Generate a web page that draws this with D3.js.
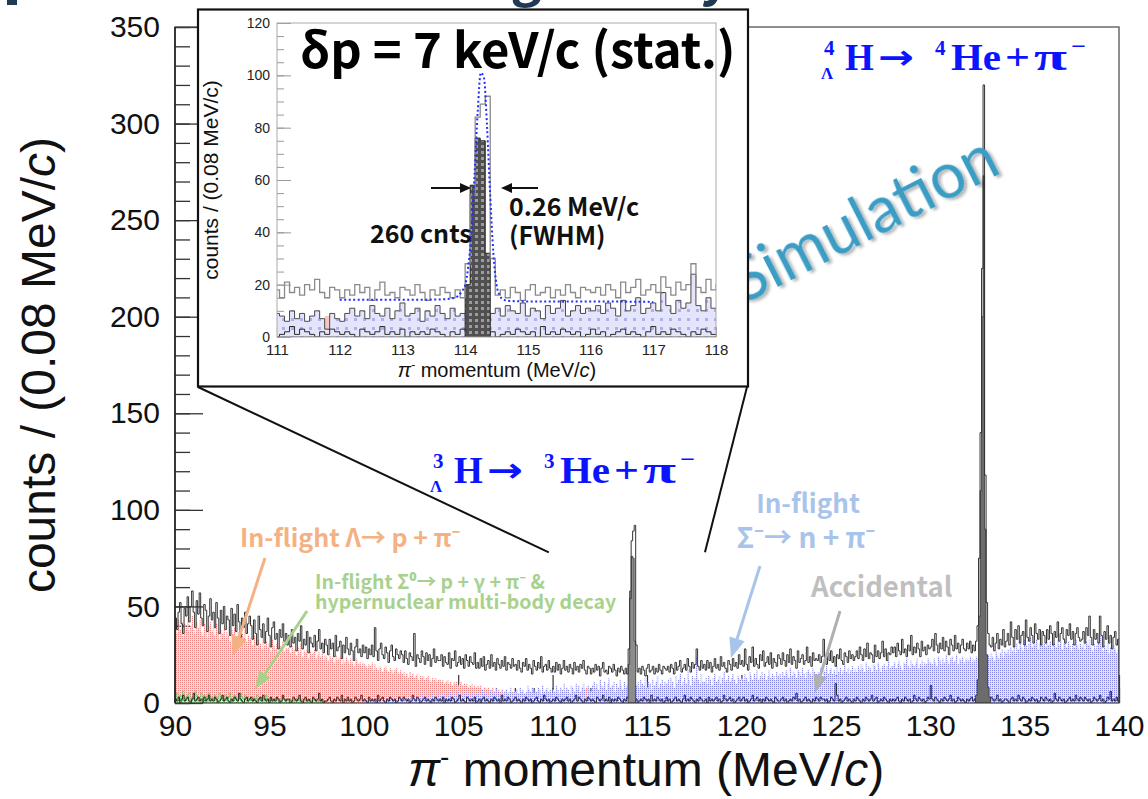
<!DOCTYPE html>
<html>
<head>
<meta charset="utf-8">
<script src="https://cdn.jsdelivr.net/npm/d3@7"></script>
<style>
  body { margin: 0; background: #fff; }
  svg { display: block; }
</style>
</head>
<body>
<div id="chart"></div>
<script>
// --- Data (bins of 0.08 MeV/c starting at 90 MeV/c, 25 bins per row = 2 MeV/c) ---
const binWidth = 0.08;
const firstEdge = 90;

const xTicks = [90, 95, 100, 105, 110, 115, 120, 125, 130, 135, 140];
const yTicks = [0, 50, 100, 150, 200, 250, 300, 350];
const insetXTicks = [111, 112, 113, 114, 115, 116, 117, 118];
const insetYTicks = [0, 20, 40, 60, 80, 100, 120];

// total simulated spectrum (black outline)
const totalStart = 0;
const total = [
  44,38,47,52,41,36,49,45,55,42,50,58,47,39,53,46,57,44,40,51,48,37,45,54,43,
  47,39,52,44,36,48,41,50,38,45,43,35,49,40,46,37,51,42,34,44,39,47,36,41,45,
  40,33,43,36,30,45,38,34,41,31,37,44,35,29,39,42,33,36,28,38,34,41,32,36,30,
  35,29,38,31,34,27,36,32,40,28,33,30,37,26,34,31,29,35,27,32,38,28,31,26,33,
  30,25,33,28,31,24,35,27,29,32,23,30,26,34,28,25,31,27,22,29,33,26,28,24,30,
  26,29,23,28,25,30,24,39,27,22,28,31,25,23,29,26,21,27,30,24,22,28,25,23,27,
  25,21,27,23,20,26,24,22,36,19,25,23,21,27,24,20,26,22,25,19,23,28,21,24,22,
  22,25,19,24,21,20,26,18,23,22,27,19,21,24,20,23,18,25,22,19,24,21,20,26,18,
  21,18,23,19,24,17,20,22,18,25,19,21,17,23,20,18,22,19,24,17,21,20,18,23,19,
  20,17,22,18,16,21,19,23,17,20,18,15,22,19,17,21,18,24,16,19,20,17,22,18,16,
  19,16,21,17,20,15,18,22,17,19,16,20,18,15,21,17,19,16,20,18,22,17,15,19,18,
  15,18,16,20,17,19,14,18,21,16,17,15,19,18,16,20,17,14,18,16,19,17,15,18,15,
  28,54,84,89,92,30,16,18,15,19,17,14,18,20,16,17,19,15,18,16,20,17,15,19,18,
  17,19,16,20,18,15,21,17,19,22,16,18,20,17,23,19,16,21,18,20,28,19,17,22,18,
  20,17,22,18,21,16,19,23,18,20,17,24,19,21,18,16,22,20,17,23,19,21,18,25,20,
  22,19,28,20,17,24,21,29,19,23,20,18,25,22,27,19,21,24,20,26,18,23,21,19,25,
  23,20,26,22,19,25,21,28,20,24,22,18,27,21,23,25,20,22,29,21,24,19,26,22,23,
  22,25,21,24,33,23,20,26,22,27,21,24,19,25,23,28,22,20,26,24,21,27,23,25,22,
  24,27,23,29,25,22,28,24,31,23,26,25,21,30,24,27,23,26,32,24,28,22,26,25,29,
  26,29,24,31,27,25,33,26,28,24,30,27,35,25,29,26,31,28,24,32,27,29,25,30,28,
  29,33,27,36,30,26,31,28,34,27,32,29,25,33,30,27,35,28,31,26,30,33,28,27,31,
  28,32,26,30,27,32,40,75,140,225,320,118,52,36,30,29,34,27,31,36,28,33,30,38,29,
  32,36,30,42,34,29,38,33,40,31,35,37,30,43,34,32,39,35,31,41,36,33,38,30,37,
  35,31,38,33,40,36,30,37,34,42,32,36,39,33,31,38,35,41,33,37,30,36,39,34,32,
  33,37,31,39,35,45,34,30,38,33,36,31,45,35,29,37,33,40,31,35,28,34,37,30,33
];

// in-flight Lambda -> p + pi- (red)
const lambdaStart = 0;
const lambdaIF = [
  40,36,43,38,42,35,41,39,44,37,40,45,38,36,42,39,43,37,35,41,38,34,40,42,37,
  39,35,41,37,33,38,36,40,34,37,35,32,38,36,39,33,37,35,31,36,34,38,32,35,33,
  34,30,35,32,29,33,31,28,34,30,32,29,31,27,33,30,28,31,26,30,29,32,27,29,28,
  29,26,30,27,28,25,29,26,31,24,27,26,28,23,27,25,26,28,23,25,27,24,26,22,25,
  24,22,25,23,24,21,25,22,23,24,20,23,21,24,22,20,23,21,19,22,23,20,21,19,21,
  20,19,18,20,19,21,17,20,18,17,19,18,16,18,19,17,16,18,17,15,17,18,16,15,17,
  15,16,14,15,13,16,14,15,13,14,15,12,14,13,14,12,13,14,12,11,13,12,13,11,12,
  12,11,12,10,11,12,10,11,9,11,10,11,9,10,11,9,10,9,10,8,9,10,8,9,8,
  9,8,9,7,8,8,7,8,6,7,8,6,7,6,7,6,7,5,6,7,5,6,5,6,5,
  5,6,4,5,5,4,5,4,3,4,5,3,4,3,4,3,3,4,2,3,3,2,3,2,2,
  2,2,1,2,2,1,2,1,1,2,1,1,1,2,1,0,1,1,0,1,1,0,8,1,0
];

// in-flight Sigma- -> n + pi- (blue), from 100 MeV/c
const sigmaStart = 125;
const sigmaIF = [
  1,2,1,0,2,1,3,1,2,1,2,3,1,2,2,1,3,2,1,3,2,2,3,1,2,
  3,2,4,2,3,3,2,4,3,2,4,3,3,5,2,4,3,4,2,3,5,3,4,3,4,
  4,3,5,4,3,5,4,6,3,4,5,4,6,3,5,4,5,6,4,5,3,6,5,4,5,
  5,6,4,7,5,6,5,4,7,6,5,6,8,5,6,4,7,5,6,7,5,6,8,5,6,
  6,7,5,8,6,7,5,6,9,7,6,8,5,7,6,8,7,5,9,6,7,8,6,7,5,
  7,6,9,7,5,8,7,10,6,8,7,5,9,8,6,10,7,9,6,8,10,7,3,9,7,
  6,9,11,8,10,7,12,9,8,11,7,10,13,8,9,11,6,10,8,12,9,7,11,8,9,
  8,7,6,5,6,9,11,8,12,10,9,13,8,11,10,7,12,9,11,14,8,10,12,9,11,
  10,12,9,13,11,8,14,10,12,15,9,11,13,10,17,12,9,14,11,13,24,12,10,15,11,
  11,13,10,14,12,9,13,15,11,12,14,10,13,16,11,12,14,11,13,15,12,10,14,13,12,
  13,12,15,13,11,16,14,12,15,13,17,12,14,16,13,15,12,14,17,13,15,14,12,16,14,
  15,13,16,14,17,15,13,18,14,16,15,13,17,16,14,18,15,13,16,17,15,14,18,16,15,
  16,15,18,14,17,16,19,15,17,18,15,17,14,19,16,18,15,17,20,16,18,15,17,19,16,
  18,16,19,17,20,18,16,21,17,19,18,16,20,19,17,21,18,16,19,20,17,19,22,18,19,
  19,21,18,20,22,19,17,21,20,23,19,18,22,20,19,21,23,18,20,22,19,21,20,23,21,
  21,20,23,21,19,24,22,20,23,21,25,22,20,23,24,21,22,25,20,23,22,24,21,23,22,
  22,24,21,23,22,24,23,25,22,21,23,24,22,25,23,26,24,22,27,25,23,26,28,24,27,
  26,28,25,29,27,30,26,31,28,32,29,27,33,30,28,31,34,29,32,30,33,28,31,34,30,
  31,29,33,30,32,28,34,31,29,33,30,32,28,31,34,29,32,30,27,31,29,33,30,28,31,
  29,31,28,32,30,33,29,27,31,28,30,32,35,29,27,30,28,31,26,29,27,30,28,26,28
];

// in-flight Sigma0 & multi-body decay (green), 90-98 MeV/c
const sigma0Start = 0;
const sigma0IF = [
  3,5,2,4,1,6,3,2,4,5,1,3,2,6,4,1,3,5,2,4,3,1,5,2,3,
  2,4,1,3,5,2,3,1,4,2,3,5,1,2,4,3,1,2,5,3,2,4,1,3,2,
  2,1,3,2,4,1,2,3,1,2,4,2,1,3,2,1,2,3,1,2,1,3,2,1,2,
  1,2,1,0,2,1,3,1,2,1,0,2,1,1,2,0,1,2,1,0,1,2,1,0,1
];

// accidental background
const accStart = 0;
const accidental = [
  2,1,3,0,2,4,1,2,3,1,0,2,5,1,2,3,1,2,0,3,1,2,4,1,2,
  1,3,2,0,1,2,4,1,2,3,1,0,2,1,3,2,1,5,2,1,0,2,3,1,2,
  3,1,2,1,0,2,3,1,4,2,1,2,0,3,1,2,1,3,2,0,1,4,2,1,2,
  2,0,1,3,2,1,2,4,1,0,2,3,1,2,1,0,3,2,1,2,5,1,2,0,1,
  1,2,3,1,0,2,1,3,2,1,4,0,2,1,3,1,2,0,1,3,2,1,2,4,1,
  2,1,0,3,1,2,1,2,0,4,1,2,3,1,0,2,1,3,2,1,2,0,1,3,2,
  1,3,2,1,2,0,1,4,2,1,3,2,0,1,2,3,1,2,1,0,2,1,3,2,1,
  2,1,3,0,2,1,2,1,3,2,0,1,2,4,1,2,1,0,3,2,1,2,1,3,0,
  1,2,0,2,3,1,2,1,0,2,1,3,2,1,2,0,4,1,2,1,3,2,0,1,2,
  3,1,2,1,0,2,1,3,2,1,2,0,1,2,3,1,0,2,1,4,2,1,2,0,1,
  2,1,3,2,1,0,2,1,2,3,1,2,0,1,2,4,1,3,2,1,0,2,1,3,2,
  1,2,1,0,3,2,1,2,4,1,2,1,3,0,2,1,2,1,3,2,1,0,2,1,3,
  2,1,2,3,1,2,0,1,2,1,3,2,1,2,0,4,1,2,1,3,2,1,2,0,1,
  3,1,2,0,1,2,3,1,2,1,0,2,4,1,2,1,3,2,1,0,2,1,3,2,1,
  1,2,0,3,1,2,1,2,3,1,2,0,1,4,2,1,2,3,1,2,0,1,2,3,1,
  2,3,1,2,0,1,2,4,1,2,3,1,2,0,2,1,3,2,1,2,1,0,3,2,1,
  1,2,3,1,2,0,1,2,1,3,2,5,1,2,0,1,2,3,1,2,1,0,2,1,3,
  2,1,3,2,2,1,2,0,1,3,2,1,10,4,1,2,0,1,2,3,1,2,1,0,2,
  1,3,2,1,0,2,1,3,2,1,2,4,1,2,3,0,1,2,1,3,2,1,0,2,1,
  2,1,2,3,1,0,2,1,3,2,1,2,0,1,4,2,1,3,2,1,2,0,1,3,2,
  9,2,1,3,2,1,0,2,1,3,2,1,2,4,1,2,0,1,3,2,1,2,1,0,2,
  1,2,3,1,2,0,1,2,1,3,2,1,0,2,1,3,2,1,2,4,1,2,0,1,2,
  2,1,0,2,3,1,2,1,4,2,1,3,2,0,1,2,1,3,2,1,2,0,1,3,2,
  1,3,2,1,2,0,1,5,2,1,3,2,1,2,0,1,2,3,1,2,1,4,2,1,3,
  2,1,3,2,1,2,0,1,3,2,1,2,4,1,2,0,1,3,2,6,1,2,1,3,1
];

// hypernuclear two-body decay peaks
const peak3Start = 300; // 3LH -> 3He + pi-
const peak3 = [20, 58, 76, 75, 32];
const peak4Start = 530; // 4LH -> 4He + pi-
const peak4 = [4, 12, 45, 110, 200, 273, 90, 25, 8, 3];

// fitted curve in the inset
const fitX = [112.0, 113.0, 113.5, 113.7, 113.8, 113.9, 113.95, 114.0, 114.05, 114.1, 114.15, 114.2,
              114.25, 114.3, 114.35, 114.4, 114.45, 114.5, 114.55, 114.6, 114.7, 115.0, 116.0, 117.0];
const fitY = [14.2, 14.2, 14.3, 14.5, 14.8, 16.0, 17.6, 19.8, 27, 40, 62, 86,
              101, 99, 80, 54, 32, 20, 16, 14.4, 13.8, 13.6, 13.6, 13.4];

// --- Setup ---
const w = 1148, h = 799;
const svg = d3.select("#chart").append("svg")
    .attr("width", w)
    .attr("height", h);

const defs = svg.append("defs");

function dotPattern(id, bg, dot) {
    const p = defs.append("pattern").attr("id", id)
        .attr("patternUnits", "userSpaceOnUse").attr("width", 2).attr("height", 2);
    p.append("rect").attr("width", 2).attr("height", 2).attr("fill", bg);
    p.append("rect").attr("width", 1).attr("height", 1).attr("fill", dot);
}
dotPattern("redDots", "#fcdede", "#ef8080");
dotPattern("blueDots", "#e2e2f9", "#8686ea");
dotPattern("greenDots", "#d8f5d8", "#6cc86c");

// softer, larger pattern for the inset
const ib = defs.append("pattern").attr("id", "insetBlue")
    .attr("patternUnits", "userSpaceOnUse").attr("width", 9).attr("height", 9);
ib.append("rect").attr("width", 9).attr("height", 9).attr("fill", "#e4e5fb");
ib.append("rect").attr("x", 3).attr("y", 3).attr("width", 3).attr("height", 3).attr("fill", "#aeb0f2");
const ig = defs.append("pattern").attr("id", "insetGray")
    .attr("patternUnits", "userSpaceOnUse").attr("width", 6).attr("height", 6);
ig.append("rect").attr("width", 6).attr("height", 6).attr("fill", "#505050");
ig.append("rect").attr("x", 1).attr("y", 1).attr("width", 3).attr("height", 3).attr("fill", "#9c9c9c");

const shadow = defs.append("filter").attr("id", "shadow")
    .attr("x", "-10%").attr("y", "-10%").attr("width", "130%").attr("height", "130%");
shadow.append("feDropShadow").attr("dx", 2).attr("dy", 3).attr("stdDeviation", 1.5)
    .attr("flood-color", "#000").attr("flood-opacity", 0.3);

defs.append("clipPath").attr("id", "mainClip")
    .append("rect").attr("x", 175).attr("y", 27).attr("width", 944).attr("height", 676);
defs.append("clipPath").attr("id", "insetClip")
    .append("rect").attr("x", 277).attr("y", 23).attr("width", 439).attr("height", 314);

// slide remnants at the top edge
svg.append("rect").attr("x", 7).attr("y", 0).attr("width", 10).attr("height", 5).attr("fill", "#1f3a52");
svg.append("text")
    .attr("x", 782).attr("y", -5)
    .attr("text-anchor", "end")
    .attr("font-family", "'Noto Sans CJK JP', sans-serif")
    .attr("font-weight", "bold").attr("font-size", 52)
    .attr("fill", "#1f3a52")
    .text("Kaon beam running（1 day）");

// --- Scales ---
const x = d3.scaleLinear().domain([90, 140]).range([175, 1119]);
const y = d3.scaleLinear().domain([0, 350]).range([703, 27]);

function histPoints(values, start) {
    const pts = values.map((v, i) => [firstEdge + (start + i) * binWidth, v]);
    pts.push([firstEdge + (start + values.length) * binWidth, values[values.length - 1]]);
    return pts;
}
function outlinePoints(values, start) {
    const pts = histPoints(values, start);
    return [[pts[0][0], 0]].concat(pts, [[pts[pts.length - 1][0], 0]]);
}
function areaGen(xs, ys) {
    return d3.area().x(d => xs(d[0])).y0(ys(0)).y1(d => ys(d[1])).curve(d3.curveStepAfter);
}
function lineGen(xs, ys) {
    return d3.line().x(d => xs(d[0])).y(d => ys(d[1])).curve(d3.curveStepAfter);
}

// --- Main axes (ticks under the histograms) ---
function styleAxis(g, color, width) {
    g.select(".domain").remove();
    g.selectAll("line").attr("stroke", color).attr("stroke-width", width);
}

svg.append("g").attr("transform", "translate(0,703)")
    .call(d3.axisBottom(x).tickValues(d3.range(90, 140.5, 1)).tickSize(-15).tickFormat(""))
    .call(g => styleAxis(g, "#333", 1.2));
svg.append("g").attr("transform", "translate(0,703)")
    .call(d3.axisBottom(x).tickValues(xTicks).tickSize(-28).tickPadding(12).tickFormat(d3.format("d")))
    .call(g => styleAxis(g, "#333", 1.2))
    .call(g => g.selectAll("text")
        .attr("font-family", "'Liberation Sans', Arial, sans-serif")
        .attr("font-size", 30).attr("fill", "#111"));

svg.append("g").attr("transform", "translate(175,0)")
    .call(d3.axisLeft(y).tickValues(d3.range(0, 351, 10)).tickSize(-15).tickFormat(""))
    .call(g => styleAxis(g, "#333", 1.3));
svg.append("g").attr("transform", "translate(175,0)")
    .call(d3.axisLeft(y).tickValues(yTicks).tickSize(-28).tickPadding(15).tickFormat(d3.format("d")))
    .call(g => styleAxis(g, "#333", 1.3))
    .call(g => g.selectAll("text")
        .attr("font-family", "'Liberation Sans', Arial, sans-serif")
        .attr("font-size", 30).attr("fill", "#111"));

// --- Main histograms ---
const main = svg.append("g").attr("clip-path", "url(#mainClip)");
const mArea = areaGen(x, y), mLine = lineGen(x, y);

main.append("path").datum(histPoints(lambdaIF, lambdaStart))
    .attr("d", mArea).attr("fill", "url(#redDots)");
main.append("path").datum(histPoints(sigmaIF, sigmaStart))
    .attr("d", mArea).attr("fill", "url(#blueDots)");
main.append("path").datum(histPoints(sigma0IF, sigma0Start))
    .attr("d", mArea).attr("fill", "url(#greenDots)")
    .attr("stroke", "#5cae5c").attr("stroke-width", 0.6);
main.append("path").datum(outlinePoints(accidental, accStart))
    .attr("d", mLine).attr("fill", "none").attr("stroke", "#1a1a1a").attr("stroke-width", 0.9);
main.append("path").datum(histPoints(peak3, peak3Start))
    .attr("d", mArea).attr("fill", "#8c8c8c").attr("stroke", "#333").attr("stroke-width", 0.8);
main.append("path").datum(histPoints(peak4, peak4Start))
    .attr("d", mArea).attr("fill", "#6c6c6c").attr("stroke", "#333").attr("stroke-width", 0.8);
main.append("path").datum(outlinePoints(total, totalStart))
    .attr("d", mLine).attr("fill", "none").attr("stroke", "#333").attr("stroke-width", 1);

// frame
svg.append("rect").attr("x", 175).attr("y", 27).attr("width", 944).attr("height", 676)
    .attr("fill", "none").attr("stroke", "#444").attr("stroke-width", 1.2);
svg.append("line").attr("x1", 175).attr("x2", 175).attr("y1", 27).attr("y2", 703)
    .attr("stroke", "#222").attr("stroke-width", 1.6);

// axis titles
const xTitle = svg.append("text")
    .attr("x", 646).attr("y", 786).attr("text-anchor", "middle")
    .attr("font-family", "'Liberation Sans', Arial, sans-serif").attr("font-size", 48).attr("fill", "#111");
xTitle.append("tspan").attr("font-style", "italic").text("π");
xTitle.append("tspan").attr("dy", -20).attr("font-size", 28).text("-");
xTitle.append("tspan").attr("dy", 20).text(" momentum (MeV/");
xTitle.append("tspan").attr("font-style", "italic").text("c");
xTitle.append("tspan").text(")");

const yTitle = svg.append("text")
    .attr("transform", "translate(55,365) rotate(-90)").attr("text-anchor", "middle")
    .attr("font-family", "'Liberation Sans', Arial, sans-serif").attr("font-size", 48).attr("fill", "#111");
yTitle.append("tspan").text("counts / (0.08 MeV/");
yTitle.append("tspan").attr("font-style", "italic").text("c");
yTitle.append("tspan").text(")");

// --- Annotations ---
const cjk = "'Noto Sans CJK JP', 'Noto Sans', sans-serif";

function arrow(x1, y1, x2, y2, color, width, len, half) {
    const a = Math.atan2(y2 - y1, x2 - x1);
    const bx = x2 - len * Math.cos(a), by = y2 - len * Math.sin(a);
    svg.append("line").attr("x1", x1).attr("y1", y1).attr("x2", bx).attr("y2", by)
        .attr("stroke", color).attr("stroke-width", width);
    const px = -Math.sin(a) * half, py = Math.cos(a) * half;
    svg.append("polygon")
        .attr("points", `${x2},${y2} ${bx + px},${by + py} ${bx - px},${by - py}`)
        .attr("fill", color);
}

function note(tx, ty, str, color, size, anchor) {
    return svg.append("text").attr("x", tx).attr("y", ty)
        .attr("text-anchor", anchor || "start")
        .attr("font-family", cjk).attr("font-weight", "bold")
        .attr("font-size", size).attr("fill", color).text(str);
}

note(240, 547, "In-flight Λ→ p + π⁻", "#f4b183", 25);
arrow(265, 558, 233, 656, "#f4b183", 3, 20, 8);

note(315, 589, "In-flight Σ⁰→ p + γ + π⁻ &", "#a9d18e", 19.5);
note(315, 609, "hypernuclear multi-body decay", "#a9d18e", 19.5);
arrow(307, 611, 255, 689, "#a9d18e", 3, 18, 7);

note(808, 513, "In-flight", "#a9c4eb", 26, "middle");
note(806, 548, "Σ⁻→ n + π⁻", "#a9c4eb", 28, "middle");
arrow(760, 566, 731, 658, "#a9c4eb", 3, 20, 8);

note(811, 597, "Accidental", "#bfbfbf", 27.5);
arrow(840, 611, 815, 693, "#b0b0b0", 3, 18, 7);

// decay labels (blue)
const serif = "'Liberation Serif', 'DejaVu Serif', serif";
function decayLabel(x0, b, mass) {
    const g = svg.append("g").attr("fill", "#0a14ff").attr("font-weight", "bold");
    const piece = (px, py, str, size, len, family) => {
        const t = g.append("text").attr("x", px).attr("y", py)
            .attr("font-family", family || serif).attr("font-size", size).text(str);
        if (len) t.attr("textLength", len).attr("lengthAdjust", "spacingAndGlyphs");
    };
    piece(x0 + 3, b - 15, mass, 21);
    piece(x0, b + 9, "Λ", 17);
    piece(x0 + 24, b, "H", 37);
    piece(x0 + 57, b - 1, "→", 34, 36, "'DejaVu Sans', sans-serif");
    piece(x0 + 114, b - 15, mass, 21);
    piece(x0 + 130, b, "He", 37, 50);
    piece(x0 + 184, b, "+", 37, 25);
    piece(x0 + 213, b, "π", 37, 33);
    piece(x0 + 250, b - 17, "−", 21, 15);
}
decayLabel(430, 483, "3");
decayLabel(821, 70, "4");

svg.append("text")
    .attr("transform", "translate(866,224) rotate(-27)")
    .attr("text-anchor", "middle").attr("dominant-baseline", "middle")
    .attr("font-family", "Lato, 'Open Sans', sans-serif").attr("font-size", 63)
    .attr("fill", "#3a9cc4").attr("filter", "url(#shadow)")
    .text("Simulation");

// --- Zoom connectors ---
svg.append("line").attr("x1", 198).attr("y1", 387).attr("x2", x(109.8)).attr("y2", y(78))
    .attr("stroke", "#111").attr("stroke-width", 2);
svg.append("line").attr("x1", 747).attr("y1", 387).attr("x2", x(118.07)).attr("y2", y(78))
    .attr("stroke", "#111").attr("stroke-width", 2);

// --- Inset ---
svg.append("rect").attr("x", 198).attr("y", 9.5).attr("width", 550).attr("height", 377)
    .attr("fill", "#fff").attr("stroke", "#111").attr("stroke-width", 2.2);

const xi = d3.scaleLinear().domain([111, 118]).range([277, 716]);
const yi = d3.scaleLinear().domain([0, 120]).range([337, 23]);

svg.append("g").attr("transform", "translate(0,337)")
    .call(d3.axisBottom(xi).tickValues(d3.range(111, 118.01, 0.2)).tickSize(-5).tickFormat(""))
    .call(g => styleAxis(g, "#999", 1));
svg.append("g").attr("transform", "translate(0,337)")
    .call(d3.axisBottom(xi).tickValues(insetXTicks).tickSize(-10).tickPadding(7).tickFormat(d3.format("d")))
    .call(g => styleAxis(g, "#999", 1))
    .call(g => g.selectAll("text")
        .attr("font-family", "'Liberation Sans', Arial, sans-serif")
        .attr("font-size", 15).attr("fill", "#222"));
svg.append("g").attr("transform", "translate(277,0)")
    .call(d3.axisLeft(yi).tickValues(d3.range(0, 121, 5)).tickSize(-7).tickFormat(""))
    .call(g => styleAxis(g, "#999", 1));
svg.append("g").attr("transform", "translate(277,0)")
    .call(d3.axisLeft(yi).tickValues(insetYTicks).tickSize(-14).tickPadding(7).tickFormat(d3.format("d")))
    .call(g => styleAxis(g, "#999", 1))
    .call(g => g.selectAll("text")
        .attr("font-family", "'Liberation Sans', Arial, sans-serif")
        .attr("font-size", 14).attr("fill", "#222"));

const inset = svg.append("g").attr("clip-path", "url(#insetClip)");
const iArea = areaGen(xi, yi), iLine = lineGen(xi, yi);

inset.append("path").datum(histPoints(lambdaIF, lambdaStart))
    .attr("d", iArea).attr("fill", "#f6c4c4");
inset.append("path").datum(histPoints(sigmaIF, sigmaStart))
    .attr("d", iArea).attr("fill", "url(#insetBlue)")
    .attr("stroke", "#4a4a4a").attr("stroke-width", 1);
inset.append("path").datum(outlinePoints(accidental, accStart))
    .attr("d", iLine).attr("fill", "none").attr("stroke", "#2a2a2a").attr("stroke-width", 1);
inset.append("path").datum(histPoints(peak3, peak3Start))
    .attr("d", iArea).attr("fill", "url(#insetGray)").attr("stroke", "#222").attr("stroke-width", 1);
inset.append("path").datum(outlinePoints(total, totalStart))
    .attr("d", iLine).attr("fill", "none").attr("stroke", "#8a8a8a").attr("stroke-width", 1.3);
inset.append("path").datum(fitX.map((d, i) => [d, fitY[i]]))
    .attr("d", d3.line().x(d => xi(d[0])).y(d => yi(d[1])).curve(d3.curveMonotoneX))
    .attr("fill", "none").attr("stroke", "#1f2fff").attr("stroke-width", 2)
    .attr("stroke-dasharray", "2,2.5");

svg.append("rect").attr("x", 277).attr("y", 23).attr("width", 439).attr("height", 314)
    .attr("fill", "none").attr("stroke", "#aaa").attr("stroke-width", 1);

const ixTitle = svg.append("text")
    .attr("x", 497).attr("y", 377).attr("text-anchor", "middle")
    .attr("font-family", "'Liberation Sans', Arial, sans-serif").attr("font-size", 20).attr("fill", "#111");
ixTitle.append("tspan").attr("font-style", "italic").text("π");
ixTitle.append("tspan").attr("dy", -8).attr("font-size", 12).text("-");
ixTitle.append("tspan").attr("dy", 8).text(" momentum (MeV/");
ixTitle.append("tspan").attr("font-style", "italic").text("c");
ixTitle.append("tspan").text(")");

svg.append("text")
    .attr("transform", "translate(218,180) rotate(-90)").attr("text-anchor", "middle")
    .attr("font-family", "'Liberation Sans', Arial, sans-serif").attr("font-size", 21).attr("fill", "#111")
    .text("counts / (0.08 MeV/c)");

// inset annotations
svg.append("text").attr("x", 300).attr("y", 68)
    .attr("font-family", cjk).attr("font-weight", "bold").attr("font-size", 49).attr("fill", "#000")
    .text("δp = 7 keV/c (stat.)");
note(370, 243, "260 cnts", "#111", 25);
note(509, 216, "0.26 MeV/c", "#111", 25);
note(509, 245, "(FWHM)", "#111", 25);
arrow(431, 188, 471, 188, "#111", 2, 11, 5);
arrow(538, 188, 501, 188, "#111", 2, 11, 5);
</script>
</body>
</html>
